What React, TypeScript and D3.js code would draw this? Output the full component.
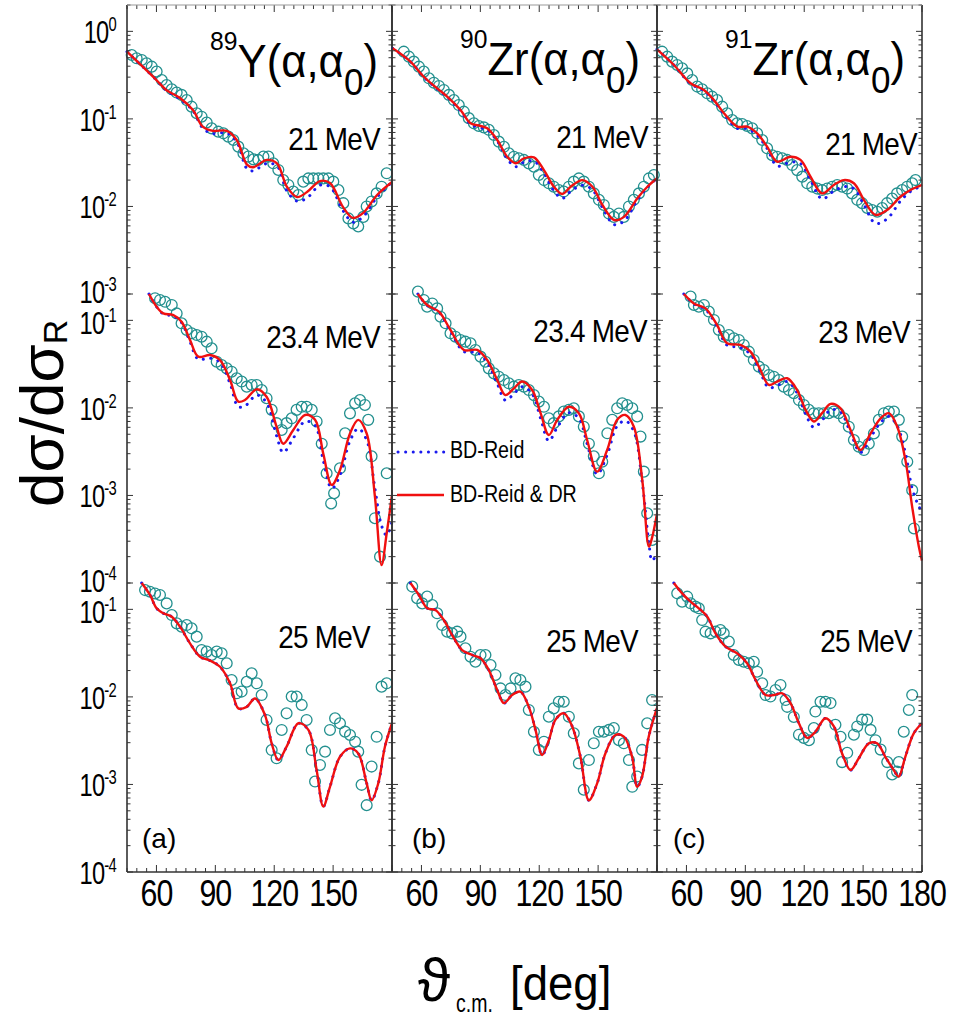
import React from 'react';
import * as d3 from 'd3';

// ---------------- data (angle in deg, dσ/dσR in each row's own units) ----------------
// 89Y 21 MeV
const Y21_expTheta = [47.4,49.9,52.5,55.0,57.6,60.1,62.7,65.2,67.8,70.3,72.8,75.4,77.9,80.5,83.0,85.6,88.1,91.5,94.1,96.6,99.2,101.7,104.3,106.8,109.4,111.9,114.5,117.0,119.5,122.1,124.6,127.2,129.7,132.3,134.8,137.4,139.9,142.5,145.0,147.6,150.1,152.7,155.2,157.8,160.3,162.8,165.4,167.1,169.6,172.2,174.7,177.3];
const Y21_exp = [0.537,0.492,0.471,0.431,0.395,0.347,0.278,0.244,0.218,0.200,0.188,0.164,0.138,0.116,0.106,0.091,0.078,0.0715,0.0684,0.0627,0.0574,0.0482,0.0405,0.0371,0.0345,0.034,0.0371,0.0371,0.0311,0.0261,0.020,0.0176,0.0148,0.0135,0.0192,0.0209,0.0209,0.0209,0.0209,0.0209,0.0192,0.0154,0.0109,0.0073,0.0064,0.0059,0.0076,0.0100,0.0114,0.0141,0.0168,0.0239];
const Y21_thTheta = [45,60,65,72,78.6,83.7,88.8,95.9,101,106.1,109.2,116.3,121.4,126.5,131.6,136.7,143.3,148.4,155,160.1,165.2,172.4,180];
const Y21_red = [0.586,0.278,0.214,0.173,0.126,0.081,0.073,0.073,0.057,0.030,0.028,0.034,0.031,0.0167,0.0128,0.0146,0.0195,0.0185,0.0099,0.0074,0.0084,0.0135,0.019];
const Y21_blue = [0.586,0.278,0.212,0.168,0.124,0.078,0.068,0.069,0.054,0.027,0.0255,0.031,0.029,0.015,0.0115,0.0125,0.0175,0.0168,0.0090,0.0066,0.0076,0.0128,0.019];

// 90Zr 21 MeV
const Zr90_21_expTheta = [51.0,53.6,56.1,58.7,61.2,63.8,66.3,68.9,71.4,74.0,76.5,79.0,81.6,84.1,86.7,89.2,91.8,94.3,96.9,99.4,102.0,104.5,107.1,109.6,112.2,114.7,117.3,119.8,122.4,124.9,127.4,130.0,132.5,135.1,137.6,140.2,142.7,145.3,147.8,150.4,152.9,155.5,158.0,160.6,163.1,165.7,168.2,170.8,173.3,175.9,178.4];
const Zr90_21_exp = [0.586,0.514,0.451,0.395,0.347,0.291,0.259,0.238,0.214,0.188,0.164,0.144,0.121,0.102,0.089,0.083,0.080,0.075,0.0655,0.055,0.048,0.0405,0.037,0.0355,0.034,0.031,0.0285,0.0229,0.020,0.0184,0.0168,0.0154,0.0148,0.0168,0.0192,0.0209,0.0192,0.0168,0.0141,0.0119,0.0104,0.0083,0.0076,0.0083,0.0076,0.0100,0.0119,0.0141,0.0168,0.0209,0.0229];
const Zr90_21_thTheta = [45.3,54.4,61.2,68,73.1,79.9,85,90.1,93.5,98.6,103.7,108,112.2,117.3,122.4,127.5,131.8,136,142,147.1,152.2,158.2,163.2,170,175.1,180];
const Zr90_21_red = [0.64,0.451,0.303,0.223,0.18,0.1265,0.089,0.083,0.078,0.0574,0.037,0.0311,0.0355,0.0364,0.026,0.0168,0.0139,0.0168,0.020,0.0168,0.0104,0.0070,0.0076,0.0124,0.0168,0.021];
const Zr90_21_blue = [0.64,0.451,0.300,0.220,0.178,0.124,0.087,0.079,0.075,0.056,0.035,0.0285,0.032,0.0330,0.024,0.0150,0.0124,0.0148,0.0175,0.0155,0.0097,0.0062,0.0068,0.0118,0.0165,0.021];

// 91Zr 21 MeV
const Zr91_21_expTheta = [47.6,50.2,52.7,55.3,57.8,60.4,62.9,65.5,68.0,70.6,73.1,75.6,78.2,80.7,83.3,85.8,88.4,90.9,93.5,96.0,98.6,101.1,103.7,106.2,108.8,111.3,113.9,116.4,119.0,121.5,124.1,126.6,129.1,131.7,134.2,136.8,139.3,141.9,144.4,147.0,149.5,152.1,154.6,157.2,159.7,162.2,164.8,167.3,169.9,172.4,175.0,176.7];
const Zr91_21_exp = [0.586,0.514,0.451,0.413,0.378,0.331,0.278,0.234,0.218,0.196,0.1795,0.164,0.138,0.116,0.097,0.089,0.0875,0.083,0.078,0.0684,0.0574,0.0461,0.0385,0.037,0.0355,0.034,0.0297,0.026,0.0219,0.0184,0.0168,0.016,0.0154,0.016,0.0168,0.0176,0.0168,0.016,0.0141,0.0119,0.0109,0.0096,0.0091,0.0087,0.0096,0.0109,0.0123,0.0141,0.0154,0.0168,0.0184,0.020];
const Zr91_21_thTheta = [45,53.6,62.1,68.9,74,79.1,85.9,91,96,101.1,106.2,113,118.1,123.2,129.1,135.1,140.2,145.3,150.4,156.3,162.2,169,174.1,180];
const Zr91_21_red = [0.623,0.413,0.255,0.214,0.164,0.116,0.0815,0.0815,0.0684,0.0482,0.0325,0.037,0.034,0.0219,0.0141,0.0176,0.020,0.0184,0.0119,0.0080,0.0091,0.0129,0.0154,0.0176];
const Zr91_21_blue = [0.623,0.413,0.252,0.210,0.160,0.113,0.078,0.077,0.065,0.046,0.029,0.032,0.031,0.020,0.0122,0.0150,0.0168,0.0160,0.0105,0.0064,0.0072,0.0115,0.0148,0.0172];

// 89Y 23.4 MeV
const Y23_expTheta = [59.3,61.8,64.4,67.8,70.3,72.8,75.4,77.9,80.5,83.0,85.6,88.1,90.7,93.2,95.8,98.3,100.9,103.4,106.0,108.5,111.1,113.6,116.1,118.7,121.2,123.8,126.3,128.9,131.4,134.0,136.5,139.1,141.6,144.2,146.7,149.0,150.5,153.5,156.1,158.6,161.2,163.7,166.2,167.9,169.6,171.3,173.9,177.3];
const Y23_exp = [0.179,0.171,0.163,0.150,0.120,0.0925,0.0776,0.0711,0.068,0.0651,0.0571,0.0479,0.0337,0.0309,0.0283,0.0259,0.0218,0.020,0.0175,0.0183,0.0183,0.016,0.0129,0.0095,0.0067,0.0056,0.0067,0.0076,0.0095,0.0103,0.0103,0.0095,0.0070,0.0039,0.00179,0.00081,0.00106,0.00204,0.00513,0.00866,0.0113,0.0123,0.0108,0.0073,0.0028,0.00055,0.0002,0.00179];
const Y23_thTheta = [56.2,60.1,63.5,68.6,72.8,77.1,81.3,87.3,92.4,97.5,101.7,105.1,111.1,116.1,121.2,124.6,129.7,135.7,140.8,145,149.3,153.5,158.6,162.8,167.1,171.3,174.7,177.3,180];
const Y23_red = [0.2,0.143,0.120,0.115,0.0966,0.0597,0.0385,0.0402,0.0352,0.0208,0.0118,0.0123,0.0163,0.0134,0.0061,0.0039,0.0056,0.0083,0.0073,0.0030,0.00132,0.00195,0.0051,0.0073,0.0051,0.00097,0.00016,0.00037,0.00101];
const Y23_blue = [0.2,0.143,0.118,0.112,0.094,0.057,0.036,0.037,0.033,0.019,0.0103,0.0105,0.014,0.0115,0.0048,0.0031,0.0045,0.0070,0.0063,0.0025,0.0012,0.0017,0.0042,0.0058,0.0043,0.0012,0.00045,0.00035,0.0005];

// 90Zr 23.4 MeV
const Zr90_23_expTheta = [58.2,61.2,62.9,65.5,68.0,69.7,72.3,74.8,77.3,79.9,82.4,85.0,87.5,90.1,92.6,94.3,96.9,99.4,102.0,104.5,107.1,109.6,112.2,114.7,117.3,119.8,122.4,124.9,127.4,130.0,132.5,135.1,137.6,140.2,142.7,145.3,147.8,150.4,152.1,154.7,157.2,159.7,162.3,164.8,167.4,169.9,171.6,173.3,175.0,177.6];
const Zr90_23_exp = [0.213,0.171,0.143,0.156,0.137,0.110,0.0925,0.0711,0.0651,0.0597,0.0571,0.0547,0.0459,0.0385,0.0337,0.0283,0.0248,0.0227,0.0208,0.0191,0.0175,0.0183,0.0175,0.016,0.014,0.0118,0.0103,0.0076,0.0067,0.0080,0.0091,0.0095,0.0099,0.0080,0.0061,0.0039,0.0028,0.00179,0.00243,0.00513,0.0073,0.0099,0.0113,0.0108,0.0099,0.0080,0.0047,0.00187,0.000625,0.00031];
const Zr90_23_thTheta = [58.2,62.9,68.9,74.8,81.6,88.4,93.5,98.6,102.8,107.1,111.3,116.4,120.7,124.9,129.2,135.1,140.2,144.4,149.5,154.6,159.7,163.9,168.2,172.5,175.9,177.5,180];
const Zr90_23_red = [0.2,0.1496,0.1256,0.0776,0.0459,0.0459,0.0352,0.0208,0.0140,0.0167,0.020,0.016,0.0087,0.0049,0.0073,0.0103,0.0087,0.0043,0.00187,0.0033,0.0073,0.0083,0.0061,0.0015,0.00026,0.00033,0.00062];
const Zr90_23_blue = [0.2,0.148,0.124,0.075,0.044,0.043,0.033,0.019,0.0122,0.0145,0.0175,0.0145,0.0076,0.0042,0.0060,0.0088,0.0076,0.0039,0.00175,0.0029,0.0062,0.0071,0.0054,0.0014,0.00028,0.00018,0.00022];

// 91Zr 23 MeV
const Zr91_23_expTheta = [62.1,63.8,66.3,68.9,71.4,74.0,76.5,79.0,81.6,84.1,86.7,89.2,91.8,94.3,96.9,99.4,102.0,104.5,107.1,109.6,112.2,114.7,117.3,119.8,122.3,124.9,127.4,130.0,132.5,135.1,137.6,140.2,142.7,145.3,147.8,150.4,152.9,155.5,158.0,160.6,163.1,165.7,168.2,169.9,172.5,175.0,175.9];
const Zr91_23_exp = [0.187,0.150,0.143,0.150,0.126,0.101,0.0776,0.0651,0.068,0.0624,0.0597,0.0524,0.0439,0.0352,0.0296,0.0271,0.0238,0.0227,0.0208,0.0175,0.016,0.0147,0.0123,0.0108,0.0095,0.0087,0.0087,0.0087,0.0087,0.0091,0.0087,0.0076,0.0061,0.0043,0.0036,0.0033,0.0039,0.0051,0.0073,0.0087,0.0091,0.0091,0.0073,0.0047,0.00243,0.00115,0.00042];
const Zr91_23_thTheta = [58.7,63.8,69.7,75.6,80.7,87.5,92.6,96.9,102,106.2,111.3,116.4,120.7,124.9,129.1,133.4,138.5,143.6,148.7,153.8,158.9,163.1,167.4,171.6,175,178.4,180];
const Zr91_23_red = [0.2,0.156,0.137,0.0885,0.0547,0.0524,0.0439,0.0296,0.0183,0.020,0.0218,0.016,0.0095,0.0070,0.0087,0.0111,0.0099,0.0056,0.0033,0.0051,0.0076,0.0087,0.0061,0.0025,0.00074,0.00026,0.00018];
const Zr91_23_blue = [0.2,0.154,0.133,0.085,0.052,0.049,0.041,0.028,0.017,0.018,0.020,0.0148,0.0085,0.0060,0.0072,0.0095,0.0090,0.0052,0.0031,0.0046,0.0068,0.0080,0.0062,0.0030,0.0012,0.00075,0.00065];

// 89Y 25 MeV (both calculations coincide)
const Y25_expTheta = [54.2,56.7,59.3,61.8,65.2,67.8,70.3,72.8,75.4,77.9,80.5,83.0,85.6,88.1,90.7,93.2,95.8,98.3,100.9,103.4,106.0,108.5,111.1,113.6,116.1,118.7,121.2,123.8,126.3,128.9,131.4,134.0,136.5,139.1,140.8,143.3,145.9,148.4,151.0,153.5,156.1,158.6,161.2,162.8,164.5,167.1,169.6,172.2,174.7,177.3];
const Y25_exp = [0.166,0.159,0.152,0.146,0.117,0.0861,0.0692,0.0634,0.0662,0.0607,0.0488,0.0343,0.0329,0.0301,0.0329,0.0315,0.0242,0.0156,0.011,0.0115,0.0149,0.0186,0.0143,0.0105,0.00545,0.00247,0.00199,0.00419,0.00649,0.0101,0.0101,0.0081,0.00545,0.00247,0.00108,0.00167,0.00237,0.00419,0.00569,0.00499,0.00401,0.00367,0.00308,0.00237,0.00099,0.00058,0.0016,0.0035,0.0131,0.0143];
const Y25_thTheta = [52.5,56.7,60.1,63.5,67.8,72,77.1,82.2,87.3,92.4,97.5,101.7,106,110.2,115.3,118.7,122.1,126.3,132.3,137.4,141.6,145,148.4,153.5,158.6,162.8,167.1,169.6,173,176.4,180];
const Y25_red = [0.2,0.146,0.1028,0.0902,0.0825,0.0634,0.0409,0.0288,0.026,0.0221,0.0143,0.0074,0.0077,0.0096,0.0062,0.00295,0.0019,0.0027,0.0050,0.0042,0.00146,0.00056,0.00094,0.00207,0.00258,0.00226,0.00103,0.00066,0.00103,0.0027,0.0050];

// 90Zr 25 MeV
const Zr90_25_expTheta = [55.3,57.8,60.4,62.9,65.5,68.0,70.6,73.1,75.6,78.2,79.9,82.4,85.0,87.5,90.1,92.6,95.2,97.7,100.3,102.8,105.4,107.9,110.4,113.0,114.7,117.3,119.8,122.4,124.9,127.4,130.0,132.5,135.1,137.6,140.2,142.7,145.3,147.8,150.4,152.9,155.5,158.0,160.6,163.1,165.7,167.4,169.9,172.4,175.0,177.5];
const Zr90_25_exp = [0.182,0.134,0.117,0.140,0.112,0.0902,0.0662,0.0556,0.0532,0.0556,0.0488,0.0359,0.0288,0.0252,0.0301,0.0301,0.0231,0.0178,0.0125,0.0105,0.0125,0.0163,0.0156,0.0131,0.0071,0.0040,0.00248,0.00308,0.00594,0.0074,0.0088,0.0088,0.00594,0.00384,0.00174,0.00087,0.0019,0.00295,0.0040,0.0040,0.0042,0.0044,0.0032,0.00295,0.0019,0.00094,0.00123,0.00248,0.00499,0.0092];
const Zr90_25_thTheta = [54.4,58.7,63,67.1,71.4,75.6,80.7,85.8,90.1,94.3,98.6,102,106.2,110.4,114.7,118.1,121.5,124.9,128.3,132.5,136.8,141,145.3,149.5,153.7,158.8,163.1,167.3,169.9,172.4,175.8,180];
const Zr90_25_red = [0.2,0.146,0.1028,0.0984,0.0755,0.0509,0.0343,0.0301,0.0276,0.0203,0.012,0.0085,0.0105,0.0115,0.0077,0.0042,0.00217,0.0032,0.0055,0.0065,0.0046,0.00207,0.00066,0.00103,0.00226,0.00367,0.00352,0.00207,0.00094,0.00123,0.00352,0.0075];

// 91Zr 25 MeV
const Zr91_25_expTheta = [55.3,57.8,60.4,62.1,64.6,66.3,68.0,69.7,72.3,74.8,77.3,79.0,81.6,84.1,86.7,89.2,91.8,94.3,96.0,98.6,100.3,102.8,105.4,107.9,110.5,111.3,114.7,117.3,119.8,122.4,124.9,125.7,128.3,130.8,133.4,135.9,138.5,139.3,141.9,145.3,147.0,149.5,152.1,153.8,156.3,158.9,162.3,164.8,167.3,168.2,170.7,173.3,175.0];
const Zr91_25_exp = [0.1524,0.1225,0.1396,0.1172,0.1074,0.1028,0.0755,0.0556,0.0532,0.0556,0.0581,0.0532,0.0428,0.0301,0.0264,0.0252,0.0242,0.0252,0.0194,0.0143,0.0105,0.0101,0.012,0.0137,0.0092,0.0077,0.0059,0.0037,0.0034,0.0032,0.0044,0.0068,0.0088,0.0088,0.0085,0.0048,0.0035,0.0018,0.0023,0.0037,0.0046,0.0055,0.0055,0.0042,0.0032,0.0025,0.0018,0.0013,0.0014,0.0018,0.0040,0.0071,0.0105];
const Zr91_25_thTheta = [53.6,57.8,62.1,66.3,70.6,74.8,79.9,85.8,90.9,95.2,100.3,104.5,108.8,113,117.3,121.5,125.7,130.8,135.1,139.3,143.6,147.8,152.9,157.1,161.3,165.6,168.1,171.5,175.8,180];
const Zr91_25_red = [0.2,0.1524,0.1225,0.1028,0.0826,0.0532,0.0375,0.0315,0.0242,0.0156,0.0105,0.0105,0.011,0.0085,0.0050,0.0034,0.0040,0.0057,0.0046,0.00226,0.00146,0.00199,0.00295,0.00295,0.00207,0.00146,0.00123,0.00207,0.00384,0.0050];

// labels / ticks
const nuclei = [['89', 'Y'], ['90', 'Zr'], ['91', 'Zr']];
const energyLabels = [['21 MeV', '23.4 MeV', '25 MeV'], ['21 MeV', '23.4 MeV', '25 MeV'], ['21 MeV', '23 MeV', '25 MeV']];
const panelTags = ['(a)', '(b)', '(c)'];
const rowDomains: [number, number][] = [[2, 1e-3], [0.2, 1e-4], [0.2, 1e-4]];
const rowLabelExponents = [[0, -1, -2, -3], [-1, -2, -3, -4], [-1, -2, -3, -4]];
const xDomain: [number, number] = [45, 180];
const xLabelsAB = [60, 90, 120, 150];
const xLabelsC = [60, 90, 120, 150, 180];
const legendLabels = ['BD-Reid', 'BD-Reid & DR'];

const subplots = [
  [
    { et: Y21_expTheta, ev: Y21_exp, tt: Y21_thTheta, red: Y21_red, blue: Y21_blue },
    { et: Y23_expTheta, ev: Y23_exp, tt: Y23_thTheta, red: Y23_red, blue: Y23_blue },
    { et: Y25_expTheta, ev: Y25_exp, tt: Y25_thTheta, red: Y25_red, blue: Y25_red },
  ],
  [
    { et: Zr90_21_expTheta, ev: Zr90_21_exp, tt: Zr90_21_thTheta, red: Zr90_21_red, blue: Zr90_21_blue },
    { et: Zr90_23_expTheta, ev: Zr90_23_exp, tt: Zr90_23_thTheta, red: Zr90_23_red, blue: Zr90_23_blue },
    { et: Zr90_25_expTheta, ev: Zr90_25_exp, tt: Zr90_25_thTheta, red: Zr90_25_red, blue: Zr90_25_red },
  ],
  [
    { et: Zr91_21_expTheta, ev: Zr91_21_exp, tt: Zr91_21_thTheta, red: Zr91_21_red, blue: Zr91_21_blue },
    { et: Zr91_23_expTheta, ev: Zr91_23_exp, tt: Zr91_23_thTheta, red: Zr91_23_red, blue: Zr91_23_blue },
    { et: Zr91_25_expTheta, ev: Zr91_25_exp, tt: Zr91_25_thTheta, red: Zr91_25_red, blue: Zr91_25_red },
  ],
];

// ---------------- layout ----------------
const W = 954, H = 1022;
const plotTop = 5, plotBottom = 872;
const left0 = 127, panelW = 265;
const rowH = (plotBottom - plotTop) / 3;
const FONT = "'Liberation Sans', Arial, Helvetica, sans-serif";
const TEAL = '#23908f';
const RED = '#f01010';
const BLUE = '#1a1aee';
const AXIS = '#333';

const energyRight = [[12, 12, 22], [9, 10, 19], [5, 12, 10]];
const energyBase = [[150, 348, 648], [148, 342, 652], [155, 343, 652]];
const titleRight = [14, 17, 17];
const tagLeft = [15, 20, 16];

function yScale(r: number) {
  return d3.scaleLog().domain(rowDomains[r]).range([plotTop + r * rowH, plotTop + (r + 1) * rowH]);
}
function xScale(p: number) {
  return d3.scaleLinear().domain(xDomain).range([left0 + p * panelW, left0 + (p + 1) * panelW]);
}

function logTicks(r: number) {
  const [hi, lo] = rowDomains[r];
  const out: { v: number; major: boolean }[] = [];
  for (let e = -5; e <= 1; e++) {
    for (let m = 1; m <= 9; m++) {
      const v = m * Math.pow(10, e);
      if (v <= hi * 1.0001 && v >= lo * 0.9999) out.push({ v, major: m === 1 });
    }
  }
  return out;
}

function SText(props: any) {
  const { x, y, sx = 1, anchor = 'start', size, children, rotate, ...rest } = props;
  const tr = `translate(${x},${y})` + (rotate ? ` rotate(${rotate})` : '') + ` scale(${sx},1)`;
  return (
    <text transform={tr} textAnchor={anchor} fontSize={size} fontFamily={FONT} fill="#000" {...rest}>
      {children}
    </text>
  );
}

export default function App() {
  const panels = [0, 1, 2];
  const rows = [0, 1, 2];
  const xTicks = d3.range(45, 180.01, 5);

  return (
    <svg width={W} height={H} style={{ position: 'absolute', left: 0, top: 0, background: '#fff' }}>
      <rect x={0} y={0} width={W} height={H} fill="#fff" />
      {panels.map((p) => {
        const xs = xScale(p);
        const x0 = xs.range()[0], x1 = xs.range()[1];
        return (
          <g key={'p' + p}>
            {rows.map((r) => {
              const ys = yScale(r);
              const d = subplots[p][r];
              const line = d3.line<number>()
                .x((_, i) => xs(d.tt[i]))
                .y((v) => ys(v))
                .curve(d3.curveCatmullRom.alpha(0.5));
              return (
                <g key={'r' + r}>
                  {d.et.map((t, i) => (
                    <circle key={i} cx={xs(t)} cy={ys(d.ev[i])} r={5.4} fill="none" stroke={TEAL} strokeWidth={1.3} />
                  ))}
                  <path d={line(d.blue) || ''} fill="none" stroke={BLUE} strokeWidth={3} strokeDasharray="0.1 7.5" strokeLinecap="round" />
                  <path d={line(d.red) || ''} fill="none" stroke={RED} strokeWidth={2.4} />
                  {logTicks(r).map((tk, i) => {
                    const y = ys(tk.v);
                    const len = tk.major ? 6 : 3.5;
                    return (
                      <g key={'t' + i}>
                        <line x1={x0} x2={x0 + len} y1={y} y2={y} stroke={AXIS} strokeWidth={1} />
                        <line x1={x1} x2={x1 - len} y1={y} y2={y} stroke={AXIS} strokeWidth={1} />
                      </g>
                    );
                  })}
                  <SText x={x1 - energyRight[p][r]} y={energyBase[p][r]} size={31} sx={0.9} anchor="end" letterSpacing={-0.8}>
                    {energyLabels[p][r]}
                  </SText>
                </g>
              );
            })}
            {xTicks.map((t) => {
              const major = t % 30 === 0;
              const len = major ? 7 : 4;
              return (
                <g key={'x' + t}>
                  <line x1={xs(t)} x2={xs(t)} y1={plotBottom} y2={plotBottom - len} stroke={AXIS} strokeWidth={1} />
                  <line x1={xs(t)} x2={xs(t)} y1={plotTop} y2={plotTop + len} stroke={AXIS} strokeWidth={1} />
                </g>
              );
            })}
            {(p === 2 ? xLabelsC : xLabelsAB).map((t) => (
              <SText key={'xl' + t} x={xs(t)} y={906} size={37} sx={0.82} anchor="middle" letterSpacing={-1.2}>
                {String(t)}
              </SText>
            ))}
            <line x1={x0} x2={x0} y1={plotTop} y2={plotBottom} stroke={AXIS} strokeWidth={1.6} />
            <line x1={x1} x2={x1} y1={plotTop} y2={plotBottom} stroke={AXIS} strokeWidth={1.6} />
            <line x1={x0} x2={x1} y1={plotBottom} y2={plotBottom} stroke={AXIS} strokeWidth={1.6} />
            <line x1={x0} x2={x1} y1={plotTop} y2={plotTop} stroke="#999" strokeWidth={1.2} />
            <text transform={`translate(${x1 - titleRight[p]},${p === 0 ? 77 : 75}) scale(0.95,1)`} textAnchor="end" fontFamily={FONT} fill="#000">
              <tspan fontSize={26} dy={-27}>{nuclei[p][0]}</tspan>
              <tspan fontSize={46} dy={27}>{nuclei[p][1]}(α,α</tspan>
              <tspan fontSize={37} dy={18}>0</tspan>
              <tspan fontSize={46} dy={-18}>)</tspan>
            </text>
            <SText x={x0 + tagLeft[p]} y={848} size={28}>{panelTags[p]}</SText>
          </g>
        );
      })}
      {rows.map((r) => {
        const ys = yScale(r);
        const n = rowLabelExponents[r].length;
        return rowLabelExponents[r].map((e, i) => {
          // small nudges where two rows' labels meet at a row boundary
          const nudge = (i === n - 1 && r < 2 ? -3 : 0) + (i === 0 && r > 0 ? 2 : 0);
          return (
            <text key={'yl' + r + e} transform={`translate(116,${ys(Math.pow(10, e)) + 12 + nudge}) scale(0.74,1)`} textAnchor="end" fontFamily={FONT} fontSize={32} letterSpacing={-1}>
              10<tspan fontSize={20} dy={-12}>{String(e)}</tspan>
            </text>
          );
        });
      })}
      <line x1={398} x2={444} y1={452} y2={452} stroke={BLUE} strokeWidth={3} strokeDasharray="0.1 7.5" strokeLinecap="round" />
      <line x1={397} x2={444} y1={495} y2={495} stroke={RED} strokeWidth={2.4} />
      <SText x={450} y={458} size={24} sx={0.82}>{legendLabels[0]}</SText>
      <SText x={450} y={502} size={24} sx={0.82}>{legendLabels[1]}</SText>
      <text transform="translate(63,507) rotate(-90)" textAnchor="start" fontFamily={FONT} fontSize={62} fill="#000">
        dσ/dσ<tspan fontSize={34} dy={4}>R</tspan>
      </text>
      <SText x={418} y={1001} size={62} sx={0.95}>ϑ</SText>
      <SText x={456} y={1012} size={26} sx={0.75}>c.m.</SText>
      <SText x={510} y={1000} size={48} sx={0.95}>[deg]</SText>
    </svg>
  );
}
